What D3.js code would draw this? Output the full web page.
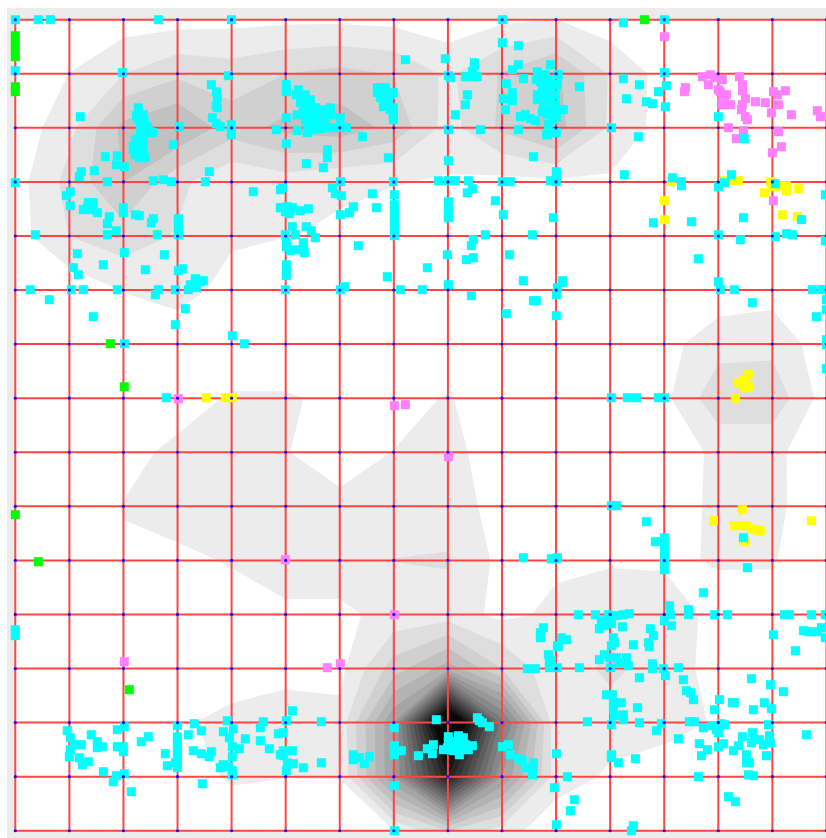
<!DOCTYPE html>
<html><head><meta charset="utf-8">
<script src="https://cdn.jsdelivr.net/npm/d3@7/dist/d3.min.js"></script>
<style>html,body{margin:0;padding:0;background:#fff;overflow:hidden}svg{display:block;filter:blur(.45px)}</style>
</head><body><svg id="chart" width="826" height="838"></svg>
<script>
// Map units: both axes run 0..811, one grid cell = 54.07 units, y grows southward.
const gridIndex = [0,1,2,3,4,5,6,7,8,9,10,11,12,13,14,15];
const cellSize = 54.07;
const mapExtent = 811;
// Density estimated at every grid node (row by row)
const densityRows = [
[0,0,.5,.6,.7,.8,.8,.7,.4,.8,1.02,.4,0,0,0,0],
[0,1.02,2.0,2.8,2.5,3.0,3.3,2.95,1.8,3.1,4.2,1.9,.6,0,0,0],
[.3,1.7,4.3,5.0,3.5,4.3,4.6,3.7,1.6,3.2,4.5,1.8,.6,0,0,0],
[.57,2.35,4.02,2.3,1.1,1.5,1.1,1.05,.9,.7,.8,.85,0,0,1.15,0],
[.56,2.02,2.6,1.9,1.2,1.03,.9,.5,0,0,0,0,0,0,0,0],
[0,.3,1.05,1.6,.5,0,0,0,0,0,0,0,0,.4,.6,0],
[0,0,0,0,0,0,0,0,0,0,0,0,.65,1.6,1.7,.4],
[0,0,0,.4,1.15,1.15,.7,.5,1.1,.2,0,0,.75,2.7,2.7,.5],
[0,0,.6,1.3,1.4,1.05,.45,1.03,1.35,.4,0,0,.3,1.25,1.25,.3],
[0,.2,1.05,1.6,1.6,1.5,1.3,1.5,1.5,.6,0,0,.3,1.3,1.3,.2],
[0,0,.85,.7,1.1,1.5,1.5,2.02,2.1,.7,.85,.9,.9,1.05,1.1,0],
[0,0,0,.4,.4,.8,.8,1.3,1.5,.75,1.2,1.6,1.4,.77,.5,0],
[0,0,0,0,.3,.5,.7,3.5,5.5,3,1.2,2.3,1.4,.7,0,0],
[0,0,0,.8,1.4,1.8,1.3,7,21,9.5,1.2,1.4,1.2,.95,0,0],
[0,0,0,.2,1.2,1.03,1.05,7,16,7,1.5,.85,.7,.3,0,0],
[0,0,0,0,0,0,0,.95,3,1.5,.3,0,0,0,0,0]
];
const densityLevels = [1,2,3,4,5,6,7,8,9,10,11,12,13,14,15,16,17];
const cyanPoints = [[0,0],[23,0],[35,0],[143,0],[216,0],[0,51],[107,53],[213,56],[196,65],[201,72],[202,78],[201,86],[202,88],[197,98],[201,104],[205,107],[216,105],[216,111],[216,115],[261,110],[65,97],
[123,88],[121,96],[129,102],[125,107],[132,107],[125,113],[135,112],[138,113],[128,120],[120,120],[118,127],[127,127],[123,133],[118,130],[124,138],[130,138],
[123,100],[128,95],[131,108],[126,118],[121,125],[128,131],[122,122],[130,113],[120,135],
[164,107],[158,125],[102,136],[90,137],[101,145],[109,147],[79,151],[66,152],[64,157],[194,152],[92,162],[138,161],[148,160],[156,162],[190,162],[0,163],[55,172],[51,176],[55,186],[238,172],
[73,183],[78,183],[72,188],[68,190],[77,190],[82,193],[108,188],[108,193],[120,195],[124,196],[94,197],[92,204],[138,199],[136,203],[101,211],[92,215],[142,215],[20,215],[163,199],[163,205],[163,211],[163,215],
[109,233],[62,234],[149,235],[88,245],[58,248],[63,255],[130,250],[163,251],[167,249],[180,259],[188,261],[265,170],[265,188],
[390,40],[430,39],[487,0],[487,23],[503,26],[459,43],[459,46],[503,45],[497,50],[433,56],[435,58],[450,57],[456,57],[462,57],[457,52],[508,59],[491,64],[497,73],[488,79],[497,81],[490,90],[452,75],[450,85],[440,95],[505,97],[510,95],[515,99],[520,101],[503,110],[531,115],[518,137],[433,110],[465,110],
[522,52],[521,60],[522,75],[522,80],[530,55],[535,45],[533,60],[537,65],[535,70],[540,75],[533,80],[540,85],[537,92],[541,97],[543,55],[542,65],[548,90],[564,67],[541,113],[532,115],
[525,62],[527,70],[530,75],[535,80],[528,85],[535,90],[532,95],[538,100],[530,65],[526,55],[533,105],[540,65],[540,92],[527,92],
[271,65],[271,72],[283,70],[281,75],[290,75],[295,80],[285,83],[295,88],[288,92],[282,95],[300,95],[307,90],[315,88],[310,98],[297,102],[303,108],[312,108],[320,108],[325,107],[331,108],[325,98],[271,98],[282,111],[292,113],[305,109],[271,124],[312,130],[312,138],[291,144],[308,148],[347,117],[373,138],[433,141],
[288,80],[292,85],[300,88],[290,100],[296,97],[303,100],[305,105],[292,105],[298,110],[310,103],[316,95],
[365,68],[362,73],[378,73],[365,78],[373,80],[368,87],[378,88],[378,100],[370,72],[375,75],[370,80],[368,78],[372,85],[375,90],[378,95],[362,68],[370,68],
[325,162],[378,162],[379,175],[423,161],[433,161],[440,161],[453,161],[457,169],[452,173],[487,162],[495,162],[535,161],[541,162],[541,152],[541,158],
[317,168],[320,174],[326,176],[357,174],[361,188],[338,187],[334,193],[325,195],[267,168],[480,181],
[379,185],[379,192],[379,198],[379,204],[379,210],[379,216],[433,182],[433,188],[433,194],[433,198],[488,195],[538,198],
[267,188],[272,187],[277,188],[275,190],[270,192],[285,191],[293,189],[274,194],[277,207],[291,207],[296,211],[300,218],[280,215],[270,215],
[271,223],[271,227],[275,231],[280,230],[288,223],[288,230],[289,233],[271,245],[271,252],[271,256],
[343,226],[470,215],[517,215],[458,220],[456,226],[432,235],[458,238],[451,240],[494,235],[412,248],[372,257],[508,261],
[608,3],[649,0],[608,59],[624,65],[651,66],[643,72],[611,79],[631,82],[637,84],[650,87],[649,53],[703,97],[596,108],[623,117],[729,119],[609,155],[657,158],[666,162],[666,166],[716,155],[703,167],[709,163],[760,164],[810,175],[638,203],[676,202],[728,198],[786,200],[703,215],[760,217],[771,214],[777,215],[725,220],[683,239],[810,221],[547,261],[703,262],
[15,270],[56,270],[68,270],[102,270],[143,270],[140,275],[160,270],[173,270],[181,268],[185,262],[175,265],[34,280],[78,297],[170,289],[160,305],[109,324],[217,316],[229,324],[151,378],
[270,270],[325,270],[329,267],[385,270],[407,270],[433,265],[456,276],[518,281],[521,281],[491,294],[542,268],[541,275],[541,296],[508,538],[536,539],[540,539],
[547,263],[705,270],[719,270],[737,283],[797,270],[807,270],[811,280],[811,290],[801,297],[811,320],[811,325],[811,349],
[596,378],[612,378],[621,378],[643,378],[649,378],[596,486],[601,486],[631,502],[640,522],[649,518],[649,525],[649,532],[649,538],[542,538],[728,518],
[0,610],[0,616],[52,711],[55,718],[59,725],[66,725],[55,730],[54,737],[64,738],[67,745],[73,742],[76,715],[82,722],[82,728],[87,727],[88,752],[102,710],[109,707],[102,727],[108,727],[108,732],[101,756],[98,762],[109,754],[116,772],[126,722],[133,717],[150,734],[152,746],[162,706],[162,717],[162,724],[162,731],[162,738],[162,743],[162,748],[160,743],
[173,715],[179,704],[186,711],[178,731],[186,734],[194,737],[196,732],[187,764],[208,712],[212,701],[218,709],[214,718],[217,727],[224,729],[217,737],[230,719],[208,745],[205,748],[213,747],[217,751],[217,755],[248,702],[245,708],[245,721],[254,729],[263,714],[265,735],
[277,691],[271,701],[268,713],[268,731],[277,731],[268,736],[278,744],[272,743],[271,751],[288,748],[306,702],[306,743],[338,735],[338,740],[344,738],[354,737],[349,744],
[379,708],[379,726],[379,731],[379,735],[386,731],[379,766],[379,811],[403,736],[412,729],[418,725],[417,734],[421,700],
[433,717],[433,722],[443,716],[447,721],[432,728],[428,730],[438,731],[442,726],[450,725],[457,726],[462,698],[464,701],[467,703],[474,707],
[436,726],[440,722],[446,730],[438,726],[444,735],[434,730],[453,730],[448,718],
[487,727],[493,725],[495,735],[503,739],[507,741],[510,748],[518,743],[518,748],[517,755],[539,768],[541,734],[541,805],
[528,608],[525,618],[525,613],[542,626],[533,635],[534,643],[534,648],[512,649],[520,649],[542,648],
[649,543],[649,550],[732,548],[688,573],[563,595],[580,595],[593,595],[601,596],[608,595],[614,594],[586,601],[584,609],[593,601],[589,606],[596,604],[607,607],
[649,601],[655,595],[656,606],[654,586],[673,590],[673,595],[699,595],[712,595],[769,595],[774,595],[796,595],[810,595],[758,615],[788,611],[793,612],[802,612],[806,608],[810,618],[780,631],
[635,609],[638,616],[633,623],[634,627],[618,625],[598,618],[599,623],[596,626],[589,635],[584,640],[594,638],[601,638],[611,638],[604,643],[613,646],[595,648],
[546,618],[551,620],[543,627],[536,641],[564,648],[637,644],[637,649],[648,649],[650,656],[663,648],[668,660],[624,658],[671,671],[675,673],[678,680],
[591,675],[597,675],[598,683],[606,683],[598,690],[608,695],[599,696],[608,700],[596,705],[622,688],[572,702],[624,703],[646,704],[641,711],[674,702],[679,702],
[663,719],[688,708],[697,706],[706,704],[709,705],[701,710],[703,713],[699,690],[704,680],[717,683],[719,683],[736,659],[755,665],[768,672],[749,683],[756,689],[738,690],[753,705],[791,715],
[684,724],[692,730],[686,736],[703,727],[708,724],[718,731],[723,726],[727,717],[737,713],[739,720],[736,723],[744,720],[748,725],[754,716],[755,723],[731,735],[751,736],[731,743],[734,743],[733,755],[738,756],[683,757],
[552,757],[559,780],[555,791],[713,777],[720,782],[618,806],[616,811],[596,735],[596,738],[603,743],[620,739]];
const magentaPoints = [[649,17],[687,57],[695,55],[700,58],[707,60],[693,65],[703,70],[705,72],[724,57],[727,65],[727,71],[670,68],[669,72],[709,80],[711,75],[707,85],[715,85],[707,82],[730,79],[727,85],[726,90],[730,97],[732,100],[740,82],[750,83],[758,72],[762,75],[770,71],[763,85],[756,93],[776,95],[802,91],[805,97],[713,108],[728,111],[721,119],[763,112],[766,127],[757,133],[758,181],[163,379],[379,386],[390,385],[433,437],[270,540],[379,595],[325,644],[312,648],[109,642]];
const yellowPoints = [[656,162],[709,161],[717,161],[723,161],[755,162],[757,167],[765,166],[771,166],[771,171],[749,173],[783,169],[649,181],[649,200],[767,195],[782,197],[191,378],[210,378],[217,378],[733,355],[728,360],[723,363],[734,367],[729,368],[730,360],[720,379],[727,490],[698,501],[796,501],[719,506],[726,506],[731,506],[736,509],[741,510],[745,511],[728,521],[730,522]];
const greenPoints = [[629,0],[0,16],[0,23],[0,30],[0,37],[0,67],[0,72],[95,324],[109,367],[0,495],[23,542],[114,670]];

const svg = d3.select("#chart");
const x = d3.scaleLinear().domain([0,mapExtent]).range([15.3,826.4]);
const y = d3.scaleLinear().domain([0,mapExtent]).range([19.7,830.7]);
const gray = d3.scaleLinear().domain([1,17]).range([236,8]);

// frame and plot background
svg.append("rect").attr("x",7).attr("y",8).attr("width",825).attr("height",836).attr("fill","#ececec");
svg.append("rect").attr("x",x(0)).attr("y",y(0)).attr("width",x(mapExtent)-x(0)+6).attr("height",y(mapExtent)-y(0)).attr("fill","#fff");
svg.append("clipPath").attr("id","plot").append("rect").attr("x",x(0)).attr("y",y(0)).attr("width",x(mapExtent)-x(0)+6).attr("height",y(mapExtent)-y(0));

// filled density contours
const flat = densityRows.flat();
const contours = d3.contours().size([16,16]).thresholds(densityLevels)(flat);
const project = d3.geoTransform({point(cx,cy){this.stream.point(x((cx-.5)*cellSize),y((cy-.5)*cellSize));}});
const path = d3.geoPath(project);
svg.append("g").attr("clip-path","url(#plot)").selectAll("path").data(contours).join("path")
  .attr("d",path).attr("fill",d=>{const g=Math.round(gray(d.value));return d3.rgb(g,g,g).formatHex();});

// grid
const grid = svg.append("g").attr("stroke","#ff4444").attr("stroke-width",2);
grid.selectAll("line.v").data(gridIndex).join("line").attr("class","v")
  .attr("x1",d=>x(d*cellSize)).attr("x2",d=>x(d*cellSize)).attr("y1",y(0)).attr("y2",y(mapExtent));
grid.selectAll("line.h").data(gridIndex).join("line").attr("class","h")
  .attr("y1",d=>y(d*cellSize)).attr("y2",d=>y(d*cellSize)).attr("x1",x(0)).attr("x2",832);

// observation squares
const sq = 9;
function squares(data,color){
  svg.append("g").selectAll("rect").data(data).join("rect")
    .attr("x",d=>x(d[0])-sq/2).attr("y",d=>y(d[1])-sq/2).attr("width",sq).attr("height",sq).attr("fill",color);
}
squares(greenPoints,"#00ff00");
squares(yellowPoints,"#ffff00");
squares(magentaPoints,"#ff80ff");
squares(cyanPoints,"#00ffff");

// grid nodes
const nodes = d3.cross(gridIndex,gridIndex);
svg.append("g").selectAll("circle").data(nodes).join("circle")
  .attr("cx",d=>x(d[0]*cellSize)).attr("cy",d=>y(d[1]*cellSize)).attr("r",1.6).attr("fill","#1010ff");
</script></body></html>
